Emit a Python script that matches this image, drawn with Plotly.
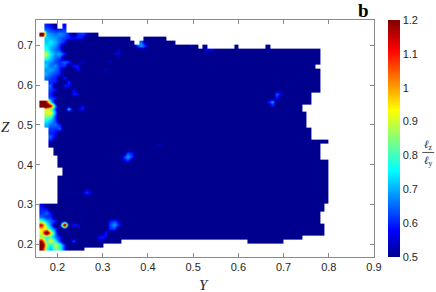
import numpy as np
import plotly.graph_objects as go

# ---------------- data ----------------
# sample grid: cell centres in Y and Z
Y_CELLS = [round(0.165 + 0.01 * k, 3) for k in range(64)]
Z_CELLS = [round(0.19 + 0.01 * k, 2) for k in range(57)]

BASE_VALUE = 0.45   # bulk of the field sits below the colour floor (0.5)

# measured region: for each Z row, the Y intervals that hold data
ROW_Z = [0.75, 0.74, 0.73, 0.72, 0.71, 0.70,
         0.69, 0.68, 0.67, 0.66, 0.65, 0.64, 0.63, 0.62,
         0.61, 0.60, 0.59, 0.58, 0.57,
         0.56, 0.55, 0.54,
         0.53, 0.52, 0.51, 0.50,
         0.49, 0.48, 0.47,
         0.46, 0.45, 0.44, 0.43, 0.42,
         0.41, 0.40, 0.39, 0.38, 0.37, 0.36, 0.35, 0.34, 0.33, 0.32, 0.31,
         0.30, 0.29, 0.28, 0.27, 0.26, 0.25, 0.24, 0.23, 0.22, 0.21, 0.20, 0.19]
ROW_SPANS = [
    [(0.17, 0.20), (0.21, 0.22)],
    [(0.17, 0.22)],
    [(0.16, 0.29)],
    [(0.17, 0.36), (0.39, 0.44)],
    [(0.17, 0.37), (0.38, 0.46)],
    [(0.17, 0.51), (0.52, 0.53), (0.59, 0.60), (0.66, 0.67)],
    [(0.17, 0.78)], [(0.17, 0.78)], [(0.17, 0.78)], [(0.17, 0.78)],
    [(0.17, 0.77)], [(0.17, 0.78)], [(0.17, 0.78)], [(0.17, 0.78)],
    [(0.18, 0.78)], [(0.18, 0.78)], [(0.18, 0.78)], [(0.18, 0.76)], [(0.18, 0.76)],
    [(0.16, 0.76)], [(0.16, 0.74)], [(0.17, 0.74)],
    [(0.17, 0.75)], [(0.17, 0.75)], [(0.17, 0.75)], [(0.17, 0.75)],
    [(0.18, 0.76)], [(0.18, 0.76)], [(0.18, 0.76)],
    [(0.18, 0.80)], [(0.18, 0.78)], [(0.19, 0.78)], [(0.19, 0.78)], [(0.20, 0.78)],
    [(0.20, 0.80)], [(0.20, 0.80)], [(0.21, 0.80)], [(0.21, 0.80)], [(0.20, 0.80)],
    [(0.20, 0.80)], [(0.20, 0.80)], [(0.20, 0.80)], [(0.20, 0.80)], [(0.20, 0.80)],
    [(0.20, 0.80)],
    [(0.16, 0.79)], [(0.16, 0.79)], [(0.16, 0.78)], [(0.16, 0.78)], [(0.16, 0.78)],
    [(0.16, 0.79)], [(0.16, 0.79)], [(0.16, 0.79)], [(0.16, 0.74)],
    [(0.16, 0.34), (0.62, 0.70)],
    [(0.16, 0.30)],
    [(0.16, 0.26)],
]

# local values of lz/ly that rise above the floor
SPOT_Z = []
SPOT_Y = []
SPOT_V = []
_spots_by_row = {
    0.75: [(0.175, 0.60), (0.185, 0.58), (0.215, 0.58)],
    0.74: [(0.175, 0.65), (0.185, 0.62), (0.195, 0.60), (0.205, 0.60), (0.215, 0.62)],
    0.73: [(0.165, 1.45), (0.175, 0.70), (0.185, 0.68), (0.195, 0.65), (0.205, 0.68),
           (0.215, 0.65), (0.225, 0.60), (0.245, 0.60), (0.255, 0.62), (0.265, 0.58)],
    0.72: [(0.175, 0.72), (0.185, 0.70), (0.195, 0.68), (0.205, 0.65), (0.215, 0.62),
           (0.225, 0.60), (0.235, 0.58), (0.245, 0.60), (0.255, 0.58)],
    0.71: [(0.175, 0.72), (0.185, 0.75), (0.195, 0.70), (0.205, 0.65), (0.215, 0.60),
           (0.385, 0.65)],
    0.70: [(0.175, 0.75), (0.185, 0.72), (0.195, 0.68), (0.205, 0.60), (0.375, 0.62),
           (0.385, 0.70), (0.395, 0.60), (0.495, 0.55)],
    0.69: [(0.175, 0.78), (0.185, 0.70), (0.195, 0.65), (0.205, 0.62), (0.335, 0.55),
           (0.525, 0.55), (0.535, 0.58), (0.545, 0.55), (0.665, 0.55)],
    0.68: [(0.175, 0.90), (0.185, 0.75), (0.195, 0.68), (0.205, 0.70), (0.215, 0.60),
           (0.325, 0.55), (0.335, 0.56)],
    0.67: [(0.175, 0.80), (0.185, 0.72), (0.195, 0.65), (0.205, 0.62)],
    0.66: [(0.175, 0.70), (0.185, 0.68), (0.195, 0.62), (0.205, 0.60), (0.215, 0.65),
           (0.225, 0.62), (0.255, 0.57), (0.315, 0.56)],
    0.65: [(0.175, 0.72), (0.185, 0.65), (0.195, 0.68), (0.205, 0.60), (0.215, 0.62),
           (0.235, 0.60), (0.245, 0.60)],
    0.64: [(0.175, 0.68), (0.185, 0.70), (0.195, 0.65), (0.205, 0.60), (0.245, 0.58),
           (0.305, 0.56)],
    0.63: [(0.175, 0.70), (0.185, 0.65), (0.195, 0.62), (0.205, 0.60)],
    0.62: [(0.175, 0.65), (0.185, 0.62), (0.195, 0.60), (0.215, 0.60)],
    0.61: [(0.185, 0.60), (0.195, 0.60), (0.225, 0.62)],
    0.60: [(0.185, 0.65), (0.215, 0.60), (0.225, 0.58)],
    0.59: [(0.185, 0.62), (0.195, 0.58), (0.235, 0.57)],
    0.58: [(0.185, 0.60), (0.235, 0.60), (0.245, 0.58), (0.685, 0.65), (0.695, 0.55)],
    0.57: [(0.185, 0.62), (0.195, 0.60), (0.685, 0.60)],
    0.56: [(0.165, 1.40), (0.175, 1.10), (0.185, 0.75), (0.665, 0.57), (0.675, 0.70)],
    0.55: [(0.165, 1.40), (0.175, 1.40), (0.185, 1.20), (0.195, 0.65), (0.255, 0.58),
           (0.675, 0.57)],
    0.54: [(0.175, 0.90), (0.185, 0.85), (0.195, 0.60), (0.225, 0.75), (0.245, 0.55),
           (0.255, 0.60)],
    0.53: [(0.175, 0.90), (0.185, 0.95), (0.195, 0.65)],
    0.52: [(0.175, 0.85), (0.185, 0.80), (0.195, 0.60)],
    0.51: [(0.175, 0.75), (0.185, 0.70), (0.195, 0.62)],
    0.50: [(0.175, 0.70), (0.185, 0.65), (0.195, 0.65), (0.205, 0.60)],
    0.49: [(0.185, 0.62), (0.195, 0.60), (0.205, 0.65)],
    0.48: [(0.185, 0.60), (0.195, 0.58)],
    0.47: [(0.185, 0.65), (0.195, 0.55)],
    0.46: [(0.185, 0.58)],
    0.45: [(0.425, 0.57)],
    0.43: [(0.355, 0.62), (0.365, 0.58)],
    0.42: [(0.345, 0.60), (0.355, 0.70), (0.365, 0.60)],
    0.41: [(0.345, 0.55), (0.355, 0.60)],
    0.34: [(0.265, 0.55)],
    0.33: [(0.225, 0.55), (0.255, 0.55), (0.265, 0.62), (0.275, 0.55)],
    0.30: [(0.165, 0.58)],
    0.29: [(0.165, 0.60), (0.175, 0.58)],
    0.28: [(0.165, 0.60), (0.175, 0.65), (0.185, 0.58), (0.255, 0.55)],
    0.27: [(0.165, 0.65), (0.175, 0.60), (0.185, 0.60)],
    0.26: [(0.165, 0.80), (0.175, 0.70), (0.185, 0.65), (0.195, 0.60), (0.315, 0.58),
           (0.325, 0.62), (0.335, 0.55)],
    0.25: [(0.165, 1.15), (0.175, 0.80), (0.185, 0.65), (0.215, 1.45), (0.235, 0.60),
           (0.245, 0.58), (0.315, 0.62), (0.325, 0.70), (0.335, 0.60)],
    0.24: [(0.165, 0.95), (0.175, 0.90), (0.185, 0.75), (0.195, 0.60), (0.315, 0.60),
           (0.325, 0.62)],
    0.23: [(0.165, 0.90), (0.175, 1.40), (0.185, 0.95), (0.195, 0.65), (0.225, 0.55),
           (0.305, 0.60)],
    0.22: [(0.165, 0.85), (0.175, 0.75), (0.185, 0.80), (0.195, 0.65), (0.205, 0.60),
           (0.285, 0.55), (0.295, 0.60), (0.305, 0.58)],
    0.21: [(0.165, 1.15), (0.175, 0.80), (0.185, 0.95), (0.195, 0.75), (0.205, 0.60),
           (0.235, 0.65), (0.295, 0.55)],
    0.20: [(0.165, 1.40), (0.175, 0.85), (0.185, 0.75), (0.195, 0.90), (0.205, 0.80),
           (0.215, 0.60)],
    0.19: [(0.165, 1.25), (0.175, 0.80), (0.185, 0.70), (0.195, 0.85), (0.205, 0.80),
           (0.215, 0.60)],
}
for _z, _pts in _spots_by_row.items():
    for _y, _v in _pts:
        SPOT_Z.append(_z)
        SPOT_Y.append(_y)
        SPOT_V.append(_v)

X_TICKS = [0.2, 0.3, 0.4, 0.5, 0.6, 0.7, 0.8, 0.9]
Y_TICKS = [0.2, 0.3, 0.4, 0.5, 0.6, 0.7]
CB_TICKS = [0.5, 0.6, 0.7, 0.8, 0.9, 1.0, 1.1, 1.2]
CB_TEXT = ["0.5", "0.6", "0.7", "0.8", "0.9", "1", "1.1", "1.2"]

# ---------------- build the field ----------------
assert len(ROW_Z) == len(ROW_SPANS)
grid = np.full((len(Z_CELLS), len(Y_CELLS)), np.nan)
for zr, spans in zip(ROW_Z, ROW_SPANS):
    j = int(np.argmin([abs(zc - zr) for zc in Z_CELLS]))
    for a, b in spans:
        for i, yc in enumerate(Y_CELLS):
            if a < yc < b:
                grid[j, i] = BASE_VALUE
for zs, ys, vs in zip(SPOT_Z, SPOT_Y, SPOT_V):
    j = int(np.argmin([abs(zc - zs) for zc in Z_CELLS]))
    i = int(np.argmin([abs(yc - ys) for yc in Y_CELLS]))
    if not np.isnan(grid[j, i]):
        grid[j, i] = vs

z_list = [[None if np.isnan(v) else float(v) for v in row] for row in grid]

jet = [[0.0, "rgb(0,0,143)"], [7 / 63, "rgb(0,0,255)"], [23 / 63, "rgb(0,255,255)"],
       [39 / 63, "rgb(255,255,0)"], [55 / 63, "rgb(255,0,0)"], [1.0, "rgb(128,0,0)"]]

FONT = "Liberation Sans"
SERIF = "Liberation Serif"
TXT = "#262626"
AX = "#8a8a8a"

fig = go.Figure()
fig.add_trace(go.Heatmap(
    x=Y_CELLS, y=Z_CELLS, z=z_list,
    zmin=0.5, zmax=1.2, colorscale=jet, zsmooth="best", connectgaps=False,
    hoverinfo="skip",
    colorbar=dict(
        x=1.0405, xanchor="left", xpad=0, y=0.5, yanchor="middle", ypad=0,
        len=1, lenmode="fraction", thickness=12, thicknessmode="pixels",
        outlinewidth=0, ticks="", tickvals=CB_TICKS, ticktext=CB_TEXT,
        tickfont=dict(family=FONT, size=11, color=TXT),
    ),
))

fig.update_layout(
    width=436, height=292,
    margin=dict(l=36, r=62, t=20, b=35, autoexpand=False),
    paper_bgcolor="white", plot_bgcolor="white",
    showlegend=False,
    xaxis=dict(range=[0.1525, 0.9], tickvals=X_TICKS, ticktext=[f"{t:.1f}" for t in X_TICKS],
               ticks="inside", ticklen=4, tickcolor=AX, showline=True, linecolor=AX,
               linewidth=1, mirror="ticks", showgrid=False, zeroline=False,
               tickfont=dict(family=FONT, size=11, color=TXT)),
    yaxis=dict(range=[0.168, 0.764], tickvals=Y_TICKS, ticktext=[f"{t:.1f}" for t in Y_TICKS],
               ticks="inside", ticklen=4, tickcolor=AX, showline=True, linecolor=AX,
               linewidth=1, mirror="ticks", showgrid=False, zeroline=False,
               tickfont=dict(family=FONT, size=11, color=TXT)),
    annotations=[
        dict(text="<i>Y</i>", x=0.497, y=-0.118, xref="paper", yref="paper",
             showarrow=False, font=dict(family=SERIF, size=15, color=TXT),
             xanchor="center", yanchor="middle"),
        dict(text="<i>Z</i>", x=-0.0888, y=0.5485, xref="paper", yref="paper",
             showarrow=False, font=dict(family=SERIF, size=15, color=TXT),
             xanchor="center", yanchor="middle"),
        dict(text="<b>b</b>", x=0.970, y=1.042, xref="paper", yref="paper",
             showarrow=False, font=dict(family=SERIF, size=19, color="black"),
             xanchor="center", yanchor="middle"),
        dict(text="<i>ℓ</i><sub>z</sub>", x=1.16, y=0.474, xref="paper", yref="paper",
             showarrow=False, font=dict(family=SERIF, size=11, color=TXT),
             xanchor="center", yanchor="middle"),
        dict(text="<i>ℓ</i><sub>y</sub>", x=1.16, y=0.405, xref="paper", yref="paper",
             showarrow=False, font=dict(family=SERIF, size=11, color=TXT),
             xanchor="center", yanchor="middle"),
    ],
    shapes=[dict(type="line", xref="paper", yref="paper", x0=1.143, x1=1.178,
                 y0=0.441, y1=0.441, line=dict(color=TXT, width=0.8))],
)

fig.write_html(
    "out.html",
    config={"displayModeBar": False},
    post_script="document.body.style.margin='0';document.body.style.padding='0';"
                "document.documentElement.style.overflow='hidden';",
)
